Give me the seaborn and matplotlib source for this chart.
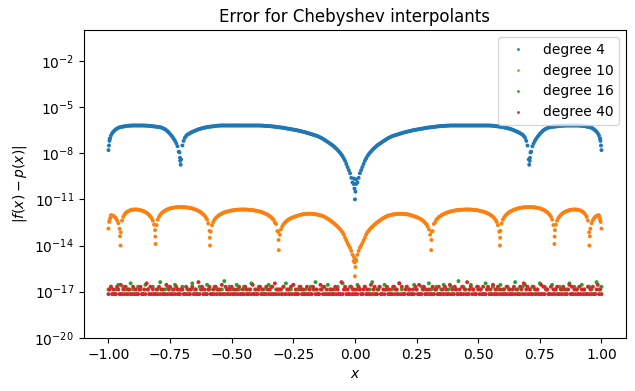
import numpy as np
import pandas as pd
import seaborn as sns
import matplotlib.pyplot as plt
from matplotlib.ticker import NullLocator

deg4_log = [
    -7.8, -6.85, -6.6, -6.45, -6.35, -6.3, -6.27, -6.24, -6.22, -6.21,
    -6.2, -6.2, -6.2, -6.2, -6.2, -6.21, -6.22, -6.23, -6.25, -6.27,
    -6.29, -6.31, -6.37, -6.45, -6.58, -6.75, -6.95, -7.2, -7.55, -8.3,
    -7.5, -7.0, -6.8, -6.7, -6.62, -6.55, -6.48, -6.42, -6.38, -6.34,
    -6.31, -6.28, -6.26, -6.24, -6.22, -6.21, -6.2, -6.2, -6.2, -6.2,
    -6.2, -6.2, -6.2, -6.2, -6.2, -6.2, -6.2, -6.2, -6.2, -6.2,
    -6.2, -6.2, -6.21, -6.22, -6.23, -6.24, -6.25, -6.27, -6.29, -6.31,
    -6.33, -6.35, -6.38, -6.41, -6.44, -6.47, -6.5, -6.53, -6.57, -6.61,
    -6.65, -6.7, -6.75, -6.8, -6.85, -6.9, -6.98, -7.07, -7.17, -7.28,
    -7.39, -7.5, -7.64, -7.8, -7.98, -8.2, -8.5, -8.9, -9.3, -9.9,
    -11.0,
    -9.9, -9.3, -8.9, -8.5, -8.2, -7.98, -7.8, -7.64, -7.5, -7.39,
    -7.28, -7.17, -7.07, -6.98, -6.9, -6.85, -6.8, -6.75, -6.7, -6.65,
    -6.61, -6.57, -6.53, -6.5, -6.47, -6.44, -6.41, -6.38, -6.35, -6.33,
    -6.31, -6.29, -6.27, -6.25, -6.24, -6.23, -6.22, -6.21, -6.2, -6.2,
    -6.2, -6.2, -6.2, -6.2, -6.2, -6.2, -6.2, -6.2, -6.2, -6.2,
    -6.2, -6.2, -6.2, -6.2, -6.21, -6.22, -6.24, -6.26, -6.28, -6.31,
    -6.34, -6.38, -6.42, -6.48, -6.55, -6.62, -6.7, -6.8, -7.0, -7.5,
    -8.3, -7.55, -7.2, -6.95, -6.75, -6.58, -6.45, -6.37, -6.31, -6.29,
    -6.27, -6.25, -6.23, -6.22, -6.21, -6.2, -6.2, -6.2, -6.2, -6.2,
    -6.21, -6.22, -6.24, -6.27, -6.3, -6.35, -6.45, -6.6, -6.85, -7.8,
]
# same curve read between the grid points, x = -0.995, -0.985, ..., 0.995
deg4_mid_log = [
    -7.05, -6.7, -6.52, -6.4, -6.32, -6.28, -6.25, -6.23, -6.21, -6.2,
    -6.2, -6.2, -6.2, -6.2, -6.2, -6.21, -6.22, -6.24, -6.26, -6.28,
    -6.3, -6.34, -6.41, -6.51, -6.66, -6.85, -7.07, -7.36, -7.9, -8.4,
    -7.2, -6.88, -6.75, -6.66, -6.58, -6.51, -6.45, -6.4, -6.36, -6.32,
    -6.29, -6.27, -6.25, -6.23, -6.21, -6.2, -6.2, -6.2, -6.2, -6.2,
    -6.2, -6.2, -6.2, -6.2, -6.2, -6.2, -6.2, -6.2, -6.2, -6.2,
    -6.2, -6.2, -6.21, -6.22, -6.23, -6.24, -6.26, -6.28, -6.3, -6.32,
    -6.34, -6.36, -6.4, -6.42, -6.45, -6.48, -6.51, -6.55, -6.59, -6.63,
    -6.67, -6.72, -6.77, -6.82, -6.87, -6.94, -7.02, -7.12, -7.22, -7.33,
    -7.44, -7.57, -7.72, -7.89, -8.09, -8.35, -8.7, -9.1, -9.6, -10.0,
    -10.0, -9.6, -9.1, -8.7, -8.35, -8.09, -7.89, -7.72, -7.57, -7.44,
    -7.33, -7.22, -7.12, -7.02, -6.94, -6.87, -6.82, -6.77, -6.72, -6.67,
    -6.63, -6.59, -6.55, -6.51, -6.48, -6.45, -6.42, -6.4, -6.36, -6.34,
    -6.32, -6.3, -6.28, -6.26, -6.24, -6.23, -6.22, -6.21, -6.2, -6.2,
    -6.2, -6.2, -6.2, -6.2, -6.2, -6.2, -6.2, -6.2, -6.2, -6.2,
    -6.2, -6.2, -6.2, -6.2, -6.2, -6.21, -6.23, -6.25, -6.27, -6.29,
    -6.32, -6.36, -6.4, -6.45, -6.51, -6.58, -6.66, -6.75, -6.88, -7.2,
    -8.4, -7.9, -7.36, -7.07, -6.85, -6.66, -6.51, -6.41, -6.34, -6.3,
    -6.28, -6.26, -6.24, -6.22, -6.21, -6.2, -6.2, -6.2, -6.2, -6.2,
    -6.2, -6.21, -6.23, -6.25, -6.28, -6.32, -6.4, -6.52, -6.7, -7.05,
]

deg10_log = [
    -12.9, -12.03, -12.07, -12.23, -12.55, -13.14, -12.14, -11.89, -11.77, -11.7,
    -11.67, -11.66, -11.67, -11.7, -11.76, -11.83, -11.94, -12.11, -12.39, -13.42,
    -12.32, -12.01, -11.84, -11.73, -11.65, -11.59, -11.55, -11.52, -11.51, -11.5,
    -11.5, -11.51, -11.53, -11.56, -11.6, -11.65, -11.71, -11.79, -11.91, -12.06,
    -12.32, -13.05, -12.68, -12.33, -12.14, -12.01, -11.92, -11.85, -11.8, -11.76,
    -11.72, -11.7, -11.68, -11.67, -11.66, -11.66, -11.67, -11.68, -11.69, -11.71,
    -11.74, -11.78, -11.82, -11.88, -11.95, -12.04, -12.15, -12.32, -12.6, -13.64,
    -12.95, -12.62, -12.44, -12.32, -12.23, -12.16, -12.1, -12.05, -12.0, -11.97,
    -11.95, -11.94, -11.94, -11.95, -11.97, -12.0, -12.04, -12.09, -12.17, -12.27,
    -12.38, -12.5, -12.63, -12.78, -12.95, -13.15, -13.5, -13.85, -14.15, -14.6,
    -16.0,
    -14.6, -14.15, -13.85, -13.5, -13.15, -12.95, -12.78, -12.63, -12.5, -12.38,
    -12.27, -12.17, -12.09, -12.04, -12.0, -11.97, -11.95, -11.94, -11.94, -11.95,
    -11.97, -12.0, -12.05, -12.1, -12.16, -12.23, -12.32, -12.44, -12.62, -12.95,
    -13.64, -12.6, -12.32, -12.15, -12.04, -11.95, -11.88, -11.82, -11.78, -11.74,
    -11.71, -11.69, -11.68, -11.67, -11.66, -11.66, -11.67, -11.68, -11.7, -11.72,
    -11.76, -11.8, -11.85, -11.92, -12.01, -12.14, -12.33, -12.68, -13.05, -12.32,
    -12.06, -11.91, -11.79, -11.71, -11.65, -11.6, -11.56, -11.53, -11.51, -11.5,
    -11.5, -11.51, -11.52, -11.55, -11.59, -11.65, -11.73, -11.84, -12.01, -12.32,
    -13.42, -12.39, -12.11, -11.94, -11.83, -11.76, -11.7, -11.67, -11.66, -11.67,
    -11.7, -11.77, -11.89, -12.14, -13.14, -12.55, -12.23, -12.07, -12.03, -12.9,
]
deg10_mid_log = [
    -12.35, -12.04, -12.14, -12.36, -12.91, -12.38, -11.99, -11.82, -11.73, -11.68,
    -11.66, -11.66, -11.69, -11.73, -11.79, -11.88, -12.02, -12.22, -12.65, -12.67,
    -12.13, -11.91, -11.78, -11.68, -11.61, -11.57, -11.54, -11.51, -11.5, -11.5,
    -11.51, -11.52, -11.54, -11.57, -11.62, -11.67, -11.75, -11.85, -11.98, -12.18,
    -12.57, -13.1, -12.47, -12.22, -12.07, -11.97, -11.89, -11.82, -11.78, -11.74,
    -11.71, -11.69, -11.67, -11.66, -11.66, -11.66, -11.67, -11.68, -11.7, -11.73,
    -11.76, -11.8, -11.85, -11.92, -12.0, -12.11, -12.26, -12.5, -13.06, -13.3,
    -12.76, -12.53, -12.38, -12.27, -12.19, -12.13, -12.07, -12.02, -11.98, -11.96,
    -11.94, -11.94, -11.94, -11.96, -11.98, -12.02, -12.06, -12.13, -12.22, -12.32,
    -12.44, -12.56, -12.7, -12.86, -13.05, -13.3, -13.67, -14.0, -14.35, -15.0,
    -15.0, -14.35, -14.0, -13.67, -13.3, -13.05, -12.86, -12.7, -12.56, -12.44,
    -12.32, -12.22, -12.13, -12.06, -12.02, -11.98, -11.96, -11.94, -11.94, -11.94,
    -11.96, -11.98, -12.02, -12.07, -12.13, -12.19, -12.27, -12.38, -12.53, -12.76,
    -13.3, -13.06, -12.5, -12.26, -12.11, -12.0, -11.92, -11.85, -11.8, -11.76,
    -11.73, -11.7, -11.68, -11.67, -11.66, -11.66, -11.66, -11.67, -11.69, -11.71,
    -11.74, -11.78, -11.82, -11.89, -11.97, -12.07, -12.22, -12.47, -13.1, -12.57,
    -12.18, -11.98, -11.85, -11.75, -11.67, -11.62, -11.57, -11.54, -11.52, -11.51,
    -11.5, -11.5, -11.51, -11.54, -11.57, -11.61, -11.68, -11.78, -11.91, -12.13,
    -12.67, -12.65, -12.22, -12.02, -11.88, -11.79, -11.73, -11.69, -11.66, -11.66,
    -11.68, -11.73, -11.82, -11.99, -12.38, -12.91, -12.36, -12.14, -12.04, -12.35,
]

# extra samples that fall right into the cusps at the nodes and next to the ends
deg4_cusp_x = [-0.998, -0.996, -0.994, -0.712, -0.709, -0.707,
               -0.004, -0.002, 0.002, 0.004,
               0.707, 0.709, 0.712, 0.994, 0.996, 0.998]
deg4_cusp_log = [-7.5, -7.2, -7.05, -7.95, -8.5, -8.75,
                 -9.65, -10.3, -10.5, -9.7,
                 -8.75, -8.5, -7.95, -7.05, -7.2, -7.5]

deg10_cusp_x = [-0.997, -0.993, -0.953, -0.951, -0.811, -0.809, -0.589, -0.588,
                -0.311, -0.309, -0.004, -0.002, 0.002, 0.004,
                0.309, 0.311, 0.588, 0.589, 0.809, 0.811, 0.951, 0.953,
                0.993, 0.997]
deg10_cusp_log = [-12.47, -12.2, -13.4, -14.0, -13.0, -13.9, -13.5, -14.0,
                  -13.1, -14.3, -14.75, -15.1, -15.4, -14.9,
                  -14.3, -13.1, -14.0, -13.5, -13.9, -13.0, -14.0, -13.4,
                  -12.2, -12.47]

# roundoff-level errors in units of 2**-57, evenly spread over [-1, 1]
deg16_ulps = [
    2, 3, 1, 2, 4, 1, 3, 2, 1, 5, 2, 1, 3, 2, 1, 4, 2, 1, 3, 1,
    2, 6, 1, 2, 3, 1, 2, 4, 1, 2, 3, 1, 2, 1, 5, 2, 1, 3, 2, 1,
    4, 2, 1, 3, 2, 1, 2, 7, 1, 3, 2, 1, 4, 2, 1, 3, 1, 2, 5, 1,
    2, 3, 1, 2, 1, 4, 3, 1, 2, 2, 1, 3, 5, 1, 2, 4, 1, 2, 3, 1,
    2, 1, 3, 2, 6, 1, 2, 3, 1, 4, 2, 1, 2, 3, 1, 5, 2, 1, 3, 2,
    1, 4, 2, 1, 3, 1, 2, 6, 1, 2, 3, 1, 4, 2, 1, 2, 3, 1, 5, 2,
    1, 3, 2, 1, 4, 2, 1, 3, 2, 1, 5, 2, 1, 3, 1, 2, 4, 1, 2, 3,
    1, 2, 7, 1, 3, 2, 1, 4, 2, 1, 3, 2, 1, 5, 2, 1, 3, 1, 2, 4,
    2, 1, 3, 2, 1, 6, 2, 1, 3, 4, 1, 2, 3, 1, 2, 5, 1, 3, 2, 1,
    4, 2, 1, 3, 2, 1, 2, 5, 1, 3, 2, 1, 4, 2, 1, 3, 2, 1, 6, 2,
    3,
]

deg40_ulps = [
    1, 2, 3, 1, 2, 1, 1, 3, 2, 1, 4, 1, 2, 1, 3, 1, 2, 2, 1, 1,
    3, 1, 2, 1, 1, 2, 3, 1, 1, 2, 1, 5, 2, 1, 3, 1, 2, 1, 1, 2,
    1, 3, 1, 2, 2, 1, 1, 4, 1, 2, 3, 1, 1, 2, 1, 3, 2, 1, 1, 2,
    2, 1, 1, 3, 1, 2, 1, 2, 3, 1, 1, 2, 1, 6, 1, 2, 3, 1, 2, 1,
    1, 2, 3, 1, 1, 2, 1, 3, 1, 2, 2, 1, 4, 1, 1, 3, 2, 1, 2, 1,
    3, 1, 2, 1, 2, 1, 3, 1, 1, 2, 1, 3, 2, 1, 1, 2, 1, 4, 1, 2,
    1, 1, 2, 3, 1, 2, 1, 1, 3, 2, 1, 2, 1, 3, 1, 5, 1, 2, 1, 2,
    2, 1, 3, 1, 1, 2, 2, 1, 3, 1, 4, 1, 2, 1, 1, 3, 2, 1, 2, 1,
    1, 3, 1, 2, 1, 1, 3, 2, 1, 2, 1, 1, 4, 2, 1, 3, 1, 2, 1, 1,
    2, 1, 2, 1, 3, 1, 2, 1, 1, 6, 1, 2, 3, 1, 2, 1, 1, 3, 1, 2,
    1, 2, 1, 3, 2, 1, 1, 2, 3, 1, 2, 1, 1, 4, 1, 2, 3, 1, 1, 2,
    3, 1, 1, 2, 1, 2, 3, 1, 2, 1, 1, 3, 1, 2, 2, 1, 5, 1, 3, 1,
    1, 2, 3, 1, 2, 1, 1, 2, 1, 3, 2, 1, 4, 1, 1, 2, 3, 1, 2, 1,
    2, 1, 1, 3, 1, 2, 2, 1, 3, 1, 1, 2, 1, 3, 2, 1, 1, 4, 1, 2,
    1, 3, 2, 1, 1, 2, 1, 3, 1, 2, 1, 6, 1, 2, 3, 1, 2, 1, 1, 3,
    2, 1, 2, 1, 3, 1, 1, 2, 3, 1, 2, 1, 4, 1, 2, 1, 3, 1, 2, 1,
    1, 2, 1, 3, 1, 2, 1, 1, 2, 3, 1, 2, 1, 1, 3, 2, 1, 5, 1, 2,
    3, 1, 2, 1, 1, 3, 2, 1, 2, 1, 1, 4, 1, 3, 1, 2, 2, 1, 1, 3,
    1, 2, 1, 2, 3, 1, 1, 2, 1, 3, 2, 1, 1, 2, 4, 1, 3, 1, 2, 1,
    2, 1, 3, 1, 2, 1, 2, 1, 1, 3, 1, 2, 1, 3, 1, 1, 2, 4, 1, 2,
    1,
]

labels = ['degree 4', 'degree 10', 'degree 16', 'degree 40']
colors = ['#1f77b4', '#ff7f0e', '#2ca02c', '#d62728']
ulp = 2.0 ** -57

x_grid = np.linspace(-1, 1, len(deg4_log))
x_mid = np.linspace(-0.995, 0.995, len(deg4_mid_log))

frames = [
    pd.DataFrame({'x': np.r_[x_grid, x_mid, deg4_cusp_x],
                  'err': 10.0 ** np.r_[deg4_log, deg4_mid_log, deg4_cusp_log],
                  'series': labels[0]}),
    pd.DataFrame({'x': np.r_[x_grid, x_mid, deg10_cusp_x],
                  'err': 10.0 ** np.r_[deg10_log, deg10_mid_log, deg10_cusp_log],
                  'series': labels[1]}),
    pd.DataFrame({'x': np.linspace(-1, 1, len(deg16_ulps)),
                  'err': np.array(deg16_ulps) * ulp,
                  'series': labels[2]}),
    pd.DataFrame({'x': np.linspace(-1, 1, len(deg40_ulps)),
                  'err': np.array(deg40_ulps) * ulp,
                  'series': labels[3]}),
]
df = pd.concat(frames, ignore_index=True)

fig, ax = plt.subplots(figsize=(6.35, 3.91), dpi=100)
fig.subplots_adjust(left=0.132, right=0.986, bottom=0.136, top=0.923)

sns.scatterplot(data=df, x='x', y='err', hue='series', hue_order=labels,
                palette=colors, s=8, linewidth=0, ax=ax)

ax.set_yscale('log')
ax.set_ylim(1e-20, 1)
ax.set_yticks(10.0 ** np.arange(-20, 0, 3))
ax.yaxis.set_minor_locator(NullLocator())
ax.set_xlim(-1.1, 1.1)

ax.set_xlabel('$x$')
ax.set_ylabel('$|f(x) - p(x)|$')
ax.set_title('Error for Chebyshev interpolants')
sns.move_legend(ax, 'upper right', title=None)

# small dots in the legend, like the plain '.' markers
for h in ax.get_legend().legend_handles:
    if hasattr(h, 'set_markersize'):
        h.set_markersize(2)
    else:
        h.set_sizes([4])

fig.savefig('out.png', dpi=100)
